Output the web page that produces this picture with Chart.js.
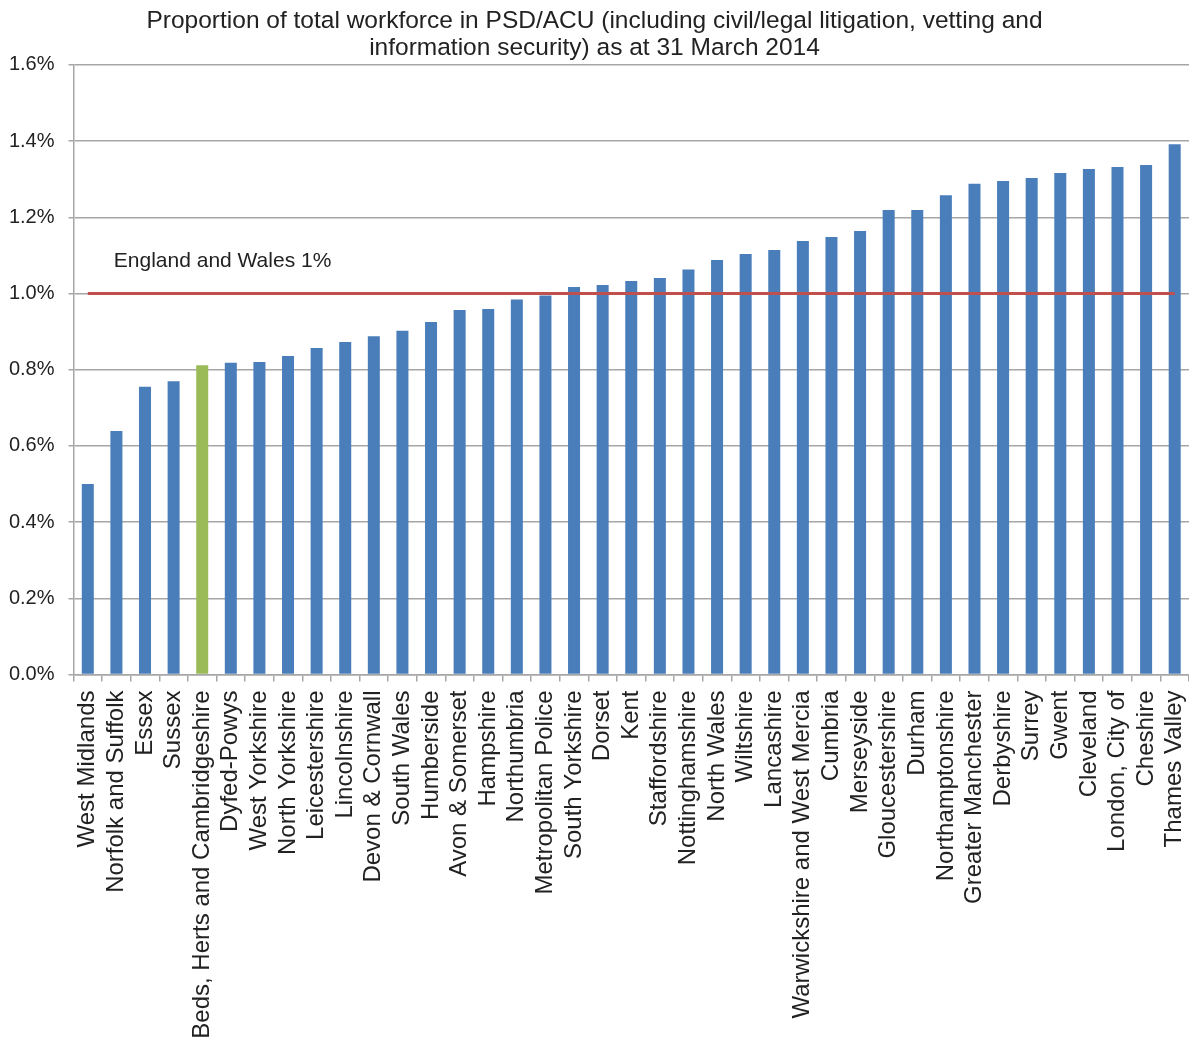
<!DOCTYPE html>
<html>
<head>
<meta charset="utf-8">
<script src="https://cdn.jsdelivr.net/npm/chart.js@4"></script>
<style>
  html, body { margin: 0; padding: 0; background: #ffffff; }
  #wrap { width: 1189px; height: 1048px; }
</style>
</head>
<body>
<div id="wrap"><canvas id="chart"></canvas></div>
<script>
const titleLines = [
  'Proportion of total workforce in PSD/ACU (including civil/legal litigation, vetting and',
  'information security) as at 31 March 2014'
];
const forces = [
  'West Midlands', 'Norfolk and Suffolk', 'Essex', 'Sussex', 'Beds, Herts and Cambridgeshire',
  'Dyfed-Powys', 'West Yorkshire', 'North Yorkshire', 'Leicestershire', 'Lincolnshire',
  'Devon & Cornwall', 'South Wales', 'Humberside', 'Avon & Somerset', 'Hampshire',
  'Northumbria', 'Metropolitan Police', 'South Yorkshire', 'Dorset', 'Kent',
  'Staffordshire', 'Nottinghamshire', 'North Wales', 'Wiltshire', 'Lancashire',
  'Warwickshire and West Mercia', 'Cumbria', 'Merseyside', 'Gloucestershire', 'Durham',
  'Northamptonshire', 'Greater Manchester', 'Derbyshire', 'Surrey', 'Gwent',
  'Cleveland', 'London, City of', 'Cheshire', 'Thames Valley'
];
const proportionPct = [
  0.50, 0.639, 0.755, 0.770, 0.812,
  0.818, 0.820, 0.836, 0.857, 0.873,
  0.888, 0.902, 0.925, 0.957, 0.959,
  0.984, 0.995, 1.017, 1.022, 1.033,
  1.041, 1.063, 1.088, 1.104, 1.114,
  1.138, 1.148, 1.164, 1.219, 1.219,
  1.258, 1.288, 1.295, 1.303, 1.316,
  1.327, 1.332, 1.337, 1.392
];
const highlightedForce = 'Beds, Herts and Cambridgeshire';
const englandWalesPct = 1.0;
const englandWalesLabel = 'England and Wales 1%';
const yTickValues = [0, 0.2, 0.4, 0.6, 0.8, 1.0, 1.2, 1.4, 1.6];

const BLUE = '#4a7ebb';
const GREEN = '#9bbb59';
const RED = '#c0504d';
const GRID = '#a6a6a6';
const TEXT = '#222222';
const FONT = '"Liberation Sans", Arial, sans-serif';

const refLabelPlugin = {
  id: 'refLabel',
  afterDatasetsDraw(chart) {
    const x = chart.scales.x, y = chart.scales.y, ctx = chart.ctx;
    ctx.save();
    ctx.font = '21px ' + FONT;
    ctx.fillStyle = TEXT;
    ctx.textAlign = 'left';
    ctx.textBaseline = 'middle';
    ctx.fillText(englandWalesLabel, x.getPixelForValue(0) + 26, y.getPixelForValue(englandWalesPct) - 32);
    ctx.restore();
  }
};

new Chart(document.getElementById('chart'), {
  data: {
    labels: forces,
    datasets: [
      {
        type: 'line',
        label: englandWalesLabel,
        data: [
          { x: forces[0], y: englandWalesPct },
          { x: forces[forces.length - 1], y: englandWalesPct }
        ],
        borderColor: RED,
        borderWidth: 2.8,
        pointRadius: 0,
        fill: false,
        order: 0
      },
      {
        type: 'bar',
        label: 'Proportion',
        data: proportionPct,
        backgroundColor: forces.map(f => f === highlightedForce ? GREEN : BLUE),
        borderWidth: 0,
        categoryPercentage: 1.0,
        barPercentage: 0.42,
        order: 1
      }
    ]
  },
  options: {
    responsive: true,
    maintainAspectRatio: false,
    animation: false,
    devicePixelRatio: 1,
    layout: { padding: { left: 0, right: 0, top: 0, bottom: 0 } },
    plugins: {
      legend: { display: false },
      tooltip: { enabled: false },
      title: {
        display: true,
        text: titleLines,
        color: TEXT,
        font: { family: FONT, size: 24.5, weight: 'normal', lineHeight: 1.1 },
        padding: { top: 8, bottom: 3 }
      }
    },
    scales: {
      x: {
        type: 'category',
        offset: true,
        grid: {
          display: true,
          offset: true,
          drawOnChartArea: false,
          drawTicks: true,
          tickLength: 7,
          color: GRID,
          lineWidth: 1.5
        },
        border: { display: true, color: GRID, width: 1.5 },
        ticks: {
          autoSkip: false,
          maxRotation: 90,
          minRotation: 90,
          padding: 9,
          color: TEXT,
          font: { family: FONT, size: 24 }
        },
        afterFit(scale) {
          scale.height = 373.5;
          scale.paddingLeft = 0;
          scale.paddingRight = 0;
        }
      },
      y: {
        min: 0,
        max: 1.6,
        afterBuildTicks(scale) { scale.ticks = yTickValues.map(v => ({ value: v })); },
        grid: {
          color: GRID,
          lineWidth: 1.5,
          tickLength: 5
        },
        border: { display: true, color: GRID, width: 1.5 },
        ticks: {
          padding: 14,
          color: TEXT,
          font: { family: FONT, size: 20 },
          callback: v => v.toFixed(1) + '%'
        },
        afterFit(scale) { scale.width = 73.5; }
      }
    }
  },
  plugins: [refLabelPlugin]
});
</script>
</body>
</html>
